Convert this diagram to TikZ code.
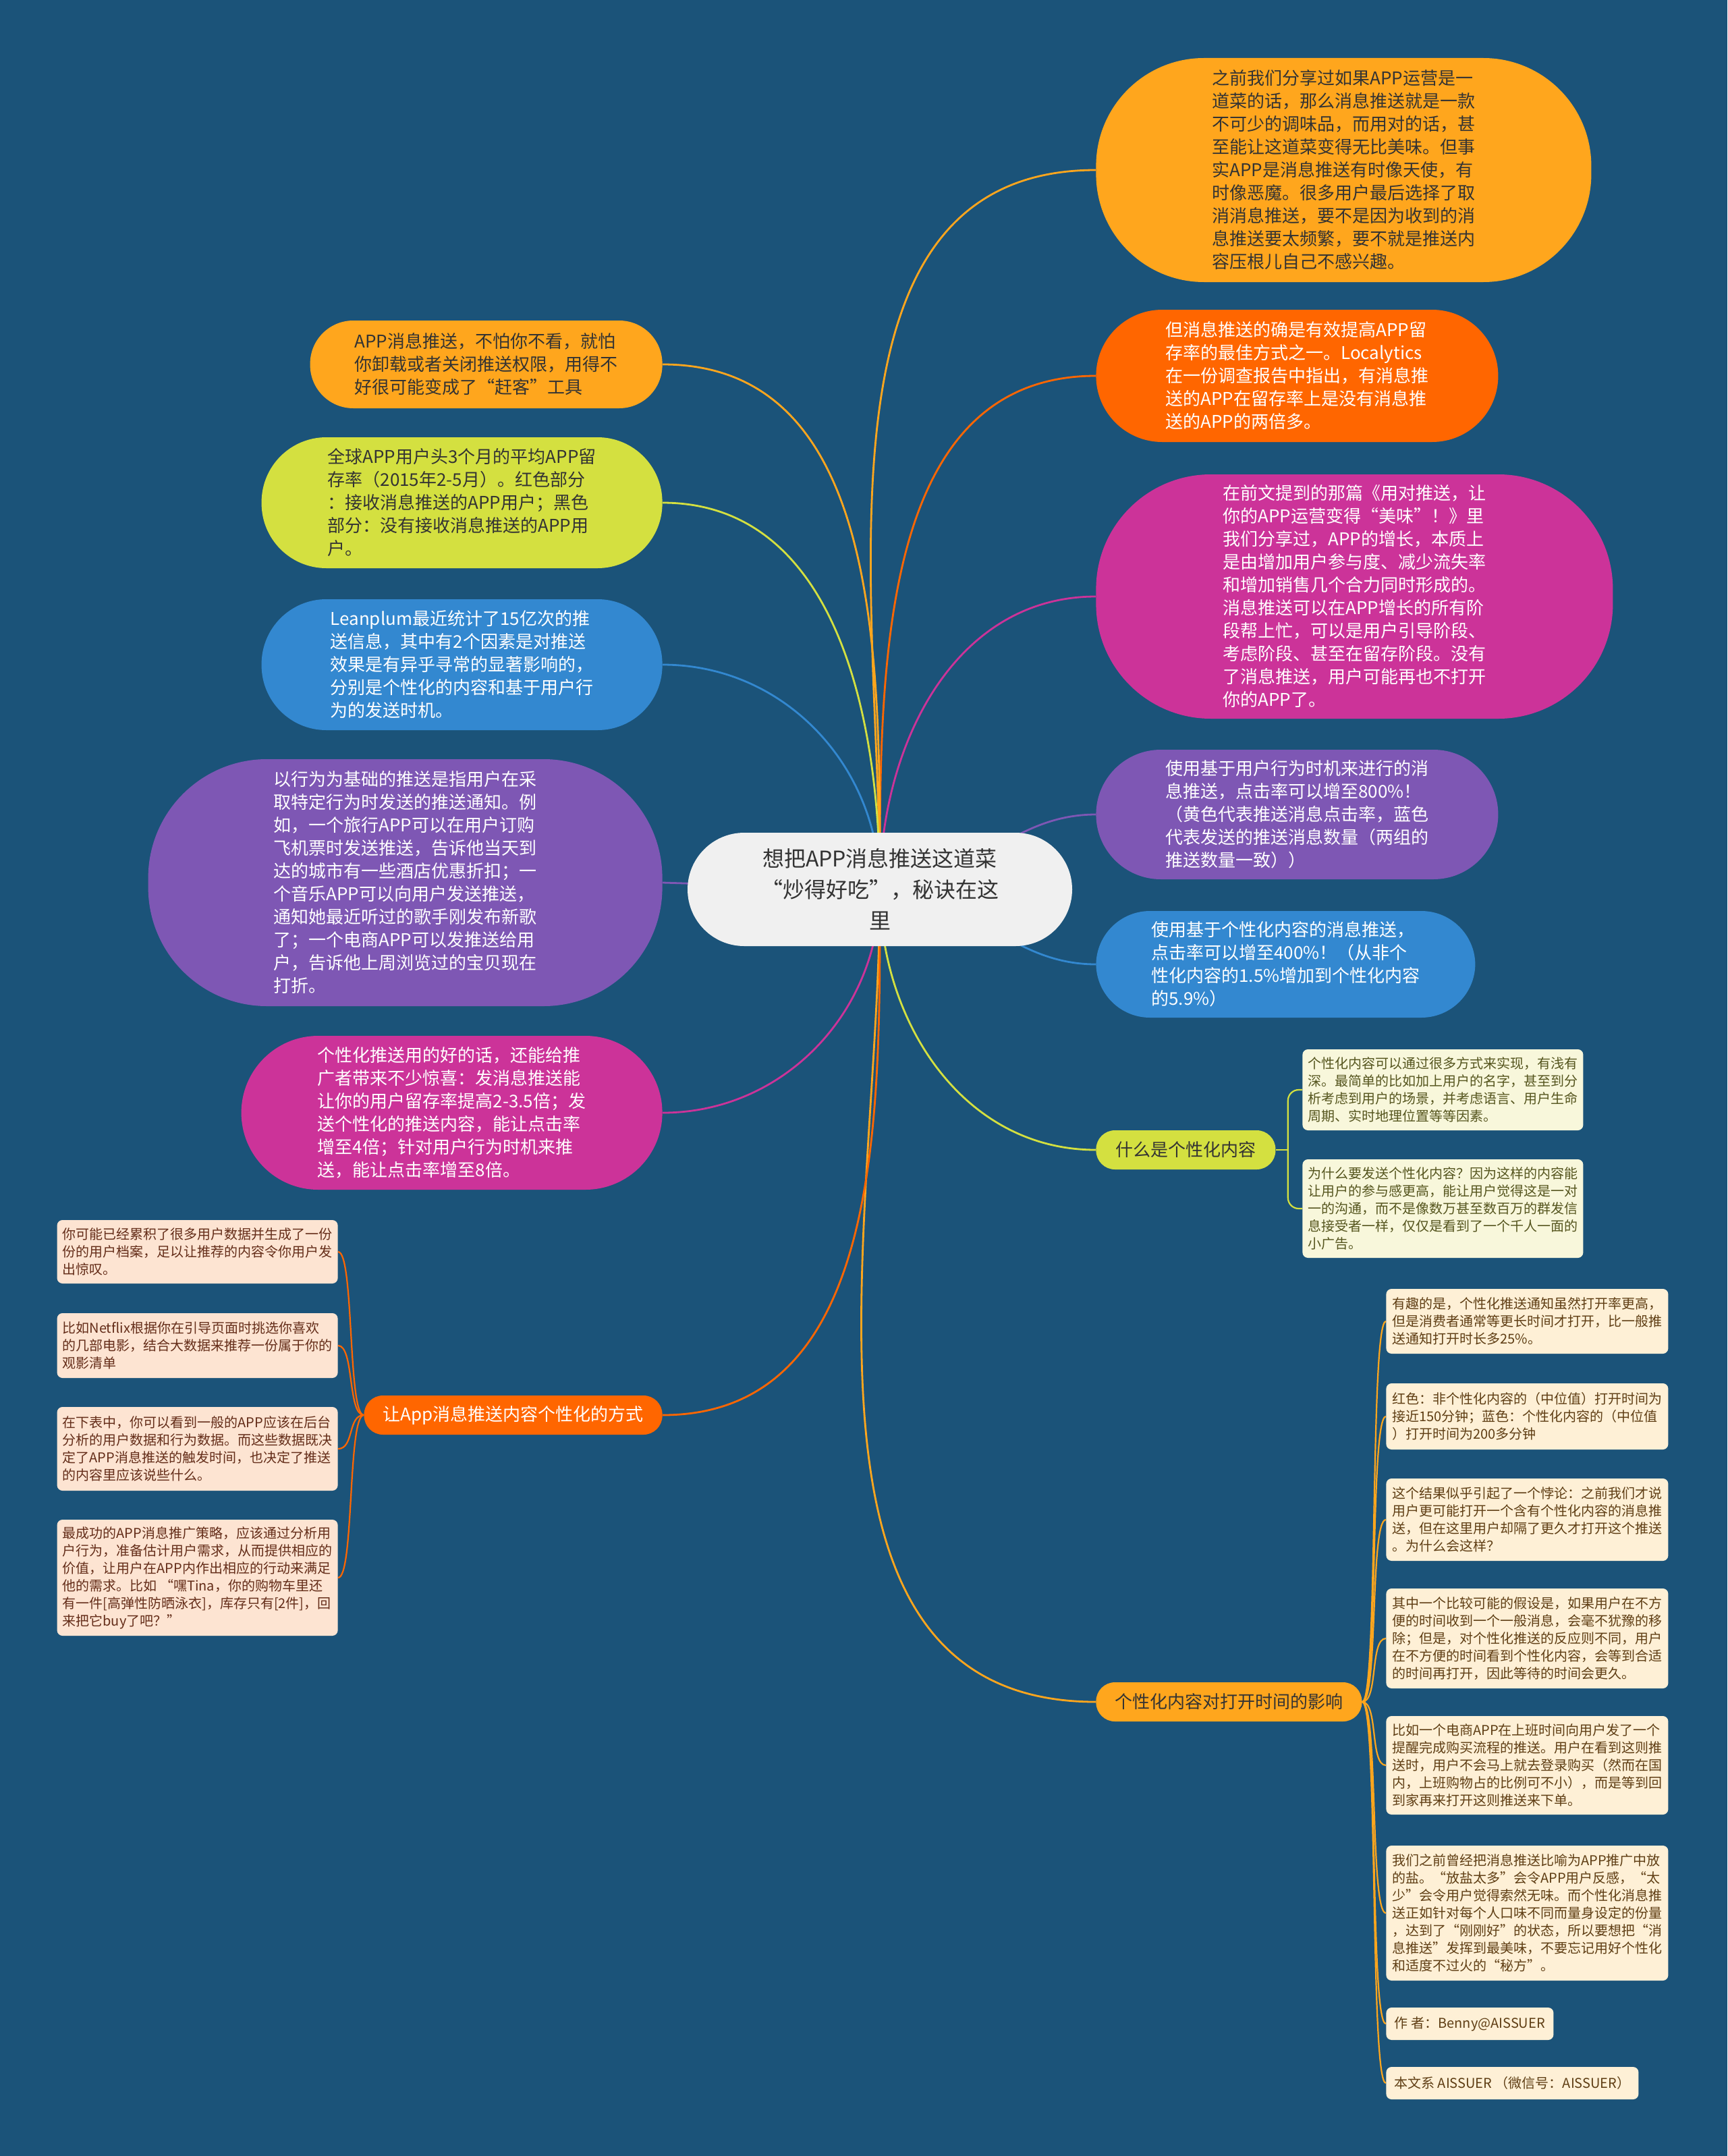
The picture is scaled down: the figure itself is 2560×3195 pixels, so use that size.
\documentclass[tikz,border=0pt]{standalone}
\usepackage{fontspec}
\setmainfont{Noto Sans CJK SC}
\usepackage{xcolor}
\usepackage{tikz}

\definecolor{mmBoard}{RGB}{27,83,121}
\definecolor{mmRoot}{RGB}{240,240,240}
\definecolor{mmInk}{RGB}{51,51,51}
\definecolor{mmAmber}{RGB}{255,166,29}
\definecolor{mmRust}{RGB}{255,102,0}
\definecolor{mmOrchid}{RGB}{204,51,153}
\definecolor{mmPurple}{RGB}{126,87,180}
\definecolor{mmBlue}{RGB}{51,136,208}
\definecolor{mmLime}{RGB}{212,224,64}
\definecolor{mmCream}{RGB}{248,247,219}
\definecolor{mmSand}{RGB}{254,240,214}
\definecolor{mmPeach}{RGB}{253,228,210}
\definecolor{mmOlive}{RGB}{85,85,30}
\definecolor{mmBrown}{RGB}{95,62,20}
\definecolor{mmCocoa}{RGB}{100,45,25}

\pgfdeclarelayer{back}
\pgfdeclarelayer{links}
\pgfsetlayers{back,links,main}

\begin{document}
\begin{tikzpicture}[x=0.5pt, y=-0.5pt,
    rootnode/.style={fill=mmRoot, text=mmInk, rounded corners=42pt, minimum width=285pt, minimum height=84pt, align=center, font=\fontsize{16}{23}\selectfont},
    bubble/.style={rounded corners=#1, align=left, font=\fontsize{13}{17}\selectfont},
    branch/.style={rounded corners=14pt, minimum height=29pt, inner xsep=12pt, font=\fontsize{13}{17}\selectfont},
    leafbox/.style={rounded corners=4pt, minimum width=208pt, align=left, inner xsep=4pt, inner ysep=4pt, font=\fontsize{10}{13}\selectfont},
    link/.style={line width=1.4pt},
    twig/.style={line width=1.1pt}]
    \useasboundingbox (0,0) rectangle (2560,3195);
    \begin{pgfonlayer}{back}
        \fill[mmBoard] (0,0) rectangle (2560,3195);
    \end{pgfonlayer}

    \node[rootnode] (root) at (1304,1318) {想把APP消息推送这道菜\\“炒得好吃”，秘诀在这\\里};

    \node[bubble=80pt, fill=mmAmber, text=mmInk, minimum width=367pt, minimum height=166pt, anchor=west] (dish) at (1624,252) {之前我们分享过如果APP运营是一\\道菜的话，那么消息推送就是一款\\不可少的调味品，而用对的话，甚\\至能让这道菜变得无比美味。但事\\实APP是消息推送有时像天使，有\\时像恶魔。很多用户最后选择了取\\消消息推送，要不是因为收到的消\\息推送要太频繁，要不就是推送内\\容压根儿自己不感兴趣。};
    \node[bubble=49pt, fill=mmRust, text=white, minimum width=298pt, minimum height=98pt, anchor=west] (localytics) at (1624,557) {但消息推送的确是有效提高APP留\\存率的最佳方式之一。Localytics\\在一份调查报告中指出，有消息推\\送的APP在留存率上是没有消息推\\送的APP的两倍多。};
    \node[bubble=85pt, fill=mmOrchid, text=white, minimum width=383pt, minimum height=181pt, anchor=west] (growth) at (1624,884) {在前文提到的那篇《用对推送，让\\你的APP运营变得“美味”！》里\\我们分享过，APP的增长，本质上\\是由增加用户参与度、减少流失率\\和增加销售几个合力同时形成的。\\消息推送可以在APP增长的所有阶\\段帮上忙，可以是用户引导阶段、\\考虑阶段、甚至在留存阶段。没有\\了消息推送，用户可能再也不打开\\你的APP了。};
    \node[bubble=48pt, fill=mmPurple, text=white, minimum width=298pt, minimum height=96pt, anchor=west] (behavior) at (1624,1207) {使用基于用户行为时机来进行的消\\息推送，点击率可以增至800\%！\\（黄色代表推送消息点击率，蓝色\\代表发送的推送消息数量（两组的\\推送数量一致））};
    \node[bubble=40pt, fill=mmBlue, text=white, minimum width=281pt, minimum height=79pt, anchor=west] (personal) at (1624,1429) {使用基于个性化内容的消息推送，\\点击率可以增至400\%！（从非个\\性化内容的1.5\%增加到个性化内容\\的5.9\%）};

    \node[bubble=32pt, fill=mmAmber, text=mmInk, minimum width=261pt, minimum height=65pt, anchor=east] (uninstall) at (982,540) {APP消息推送，不怕你不看，就怕\\你卸载或者关闭推送权限，用得不\\好很可能变成了“赶客”工具};
    \node[bubble=48pt, fill=mmLime, text=mmInk, minimum width=297pt, minimum height=97pt, anchor=east] (retention) at (982,745) {全球APP用户头3个月的平均APP留\\存率（2015年2-5月）。红色部分\\：接收消息推送的APP用户；黑色\\部分：没有接收消息推送的APP用\\户。};
    \node[bubble=48pt, fill=mmBlue, text=white, minimum width=297pt, minimum height=97pt, anchor=east] (leanplum) at (982,985) {Leanplum最近统计了15亿次的推\\送信息，其中有2个因素是对推送\\效果是有异乎寻常的显著影响的，\\分别是个性化的内容和基于用户行\\为的发送时机。};
    \node[bubble=88pt, fill=mmPurple, text=white, minimum width=381pt, minimum height=183pt, anchor=east] (trigger) at (982,1308) {以行为为基础的推送是指用户在采\\取特定行为时发送的推送通知。例\\如，一个旅行APP可以在用户订购\\飞机票时发送推送，告诉他当天到\\达的城市有一些酒店优惠折扣；一\\个音乐APP可以向用户发送推送，\\通知她最近听过的歌手刚发布新歌\\了；一个电商APP可以发推送给用\\户，告诉他上周浏览过的宝贝现在\\打折。};
    \node[bubble=57pt, fill=mmOrchid, text=white, minimum width=312pt, minimum height=114pt, anchor=east] (surprise) at (982,1649) {个性化推送用的好的话，还能给推\\广者带来不少惊喜：发消息推送能\\让你的用户留存率提高2-3.5倍；发\\送个性化的推送内容，能让点击率\\增至4倍；针对用户行为时机来推\\送，能让点击率增至8倍。};

    \node[branch, fill=mmLime, text=mmInk, minimum width=133pt, anchor=west] (whatis) at (1624,1704) {什么是个性化内容};
    \node[branch, fill=mmAmber, text=mmInk, minimum width=197pt, anchor=west] (opentime) at (1624,2522) {个性化内容对打开时间的影响};
    \node[branch, fill=mmRust, text=white, minimum width=221pt, anchor=east] (howto) at (982,2097) {让App消息推送内容个性化的方式};

    \node[leafbox, fill=mmCream, text=mmOlive, minimum height=60pt, anchor=west] (what1) at (1930,1615) {个性化内容可以通过很多方式来实现，有浅有\\深。最简单的比如加上用户的名字，甚至到分\\析考虑到用户的场景，并考虑语言、用户生命\\周期、实时地理位置等等因素。};
    \node[leafbox, fill=mmCream, text=mmOlive, minimum height=73pt, anchor=west] (what2) at (1930,1791) {为什么要发送个性化内容？因为这样的内容能\\让用户的参与感更高，能让用户觉得这是一对\\一的沟通，而不是像数万甚至数百万的群发信\\息接受者一样，仅仅是看到了一个千人一面的\\小广告。};

    \node[leafbox, fill=mmSand, text=mmBrown, minimum width=209pt, minimum height=48pt, anchor=west] (time1) at (2054,1958) {有趣的是，个性化推送通知虽然打开率更高，\\但是消费者通常等更长时间才打开，比一般推\\送通知打开时长多25\%。};
    \node[leafbox, fill=mmSand, text=mmBrown, minimum width=209pt, minimum height=49pt, anchor=west] (time2) at (2054,2099) {红色：非个性化内容的（中位值）打开时间为\\接近150分钟；蓝色：个性化内容的（中位值\\）打开时间为200多分钟};
    \node[leafbox, fill=mmSand, text=mmBrown, minimum width=209pt, minimum height=61pt, anchor=west] (time3) at (2054,2252) {这个结果似乎引起了一个悖论：之前我们才说\\用户更可能打开一个含有个性化内容的消息推\\送，但在这里用户却隔了更久才打开这个推送\\。为什么会这样？};
    \node[leafbox, fill=mmSand, text=mmBrown, minimum width=209pt, minimum height=74pt, anchor=west] (time4) at (2054,2428) {其中一个比较可能的假设是，如果用户在不方\\便的时间收到一个一般消息，会毫不犹豫的移\\除；但是，对个性化推送的反应则不同，用户\\在不方便的时间看到个性化内容，会等到合适\\的时间再打开，因此等待的时间会更久。};
    \node[leafbox, fill=mmSand, text=mmBrown, minimum width=209pt, minimum height=73pt, anchor=west] (time5) at (2054,2616) {比如一个电商APP在上班时间向用户发了一个\\提醒完成购买流程的推送。用户在看到这则推\\送时，用户不会马上就去登录购买（然而在国\\内，上班购物占的比例可不小），而是等到回\\到家再来打开这则推送来下单。};
    \node[leafbox, fill=mmSand, text=mmBrown, minimum width=209pt, minimum height=100pt, anchor=west] (time6) at (2054,2835) {我们之前曾经把消息推送比喻为APP推广中放\\的盐。“放盐太多”会令APP用户反感，“太\\少”会令用户觉得索然无味。而个性化消息推\\送正如针对每个人口味不同而量身设定的份量\\，达到了“刚刚好”的状态，所以要想把“消\\息推送”发挥到最美味，不要忘记用好个性化\\和适度不过火的“秘方”。};
    \node[leafbox, fill=mmSand, text=mmBrown, minimum width=124pt, minimum height=24pt, anchor=west] (time7) at (2054,2999) {作 者：Benny@AISSUER};
    \node[leafbox, fill=mmSand, text=mmBrown, minimum width=187pt, minimum height=24pt, anchor=west] (time8) at (2054,3087) {本文系 AISSUER （微信号：AISSUER）};

    \node[leafbox, fill=mmPeach, text=mmCocoa, minimum height=47pt, anchor=east] (way1) at (501,1855) {你可能已经累积了很多用户数据并生成了一份\\份的用户档案，足以让推荐的内容令你用户发\\出惊叹。};
    \node[leafbox, fill=mmPeach, text=mmCocoa, minimum height=48pt, anchor=east] (way2) at (501,1994) {比如Netflix根据你在引导页面时挑选你喜欢\\的几部电影，结合大数据来推荐一份属于你的\\观影清单};
    \node[leafbox, fill=mmPeach, text=mmCocoa, minimum height=62pt, anchor=east] (way3) at (501,2147) {在下表中，你可以看到一般的APP应该在后台\\分析的用户数据和行为数据。而这些数据既决\\定了APP消息推送的触发时间，也决定了推送\\的内容里应该说些什么。};
    \node[leafbox, fill=mmPeach, text=mmCocoa, minimum height=86pt, anchor=east] (way4) at (501,2338) {最成功的APP消息推广策略，应该通过分析用\\户行为，准备估计用户需求，从而提供相应的\\价值，让用户在APP内作出相应的行动来满足\\他的需求。比如 “嘿Tina，你的购物车里还\\有一件[高弹性防晒泳衣]，库存只有[2件]，回\\来把它buy了吧？”};

    \begin{pgfonlayer}{links}
        \draw[link, mmAmber] (root.center) to[out=90, in=180] (dish.west);
        \draw[link, mmRust] (root.center) to[out=90, in=180] (localytics.west);
        \draw[link, mmOrchid] (root.center) to[out=90, in=180] (growth.west);
        \draw[link, mmPurple] (root.center) to[out=0, in=180] (behavior.west);
        \draw[link, mmBlue] (root.center) to[out=0, in=180] (personal.west);
        \draw[link, mmLime] (root.center) to[out=-90, in=180] (whatis.west);
        \draw[link, mmAmber] (root.center) to[out=-90, in=180] (opentime.west);
        \draw[link, mmAmber] (root.center) to[out=90, in=0] (uninstall.east);
        \draw[link, mmLime] (root.center) to[out=90, in=0] (retention.east);
        \draw[link, mmBlue] (root.center) to[out=90, in=0] (leanplum.east);
        \draw[link, mmPurple] (root.center) -- (trigger.east);
        \draw[link, mmOrchid] (root.center) to[out=-90, in=0] (surprise.east);
        \draw[link, mmRust] (root.center) to[out=-90, in=0] (howto.east);

        \draw[twig, mmLime] (whatis.east) -- ++(18,0) coordinate (fork);
        \draw[twig, mmLime, rounded corners=8pt] (fork) |- (what1.west);
        \draw[twig, mmLime, rounded corners=8pt] (fork) |- (what2.west);
        \foreach \k in {1,...,8}
            \draw[twig, mmAmber] (opentime.east) .. controls +(24,0) and +(-24,0) .. (time\k.west);
        \foreach \k in {1,...,4}
            \draw[twig, mmRust] (howto.west) .. controls +(-24,0) and +(24,0) .. (way\k.east);
    \end{pgfonlayer}
\end{tikzpicture}
\end{document}
